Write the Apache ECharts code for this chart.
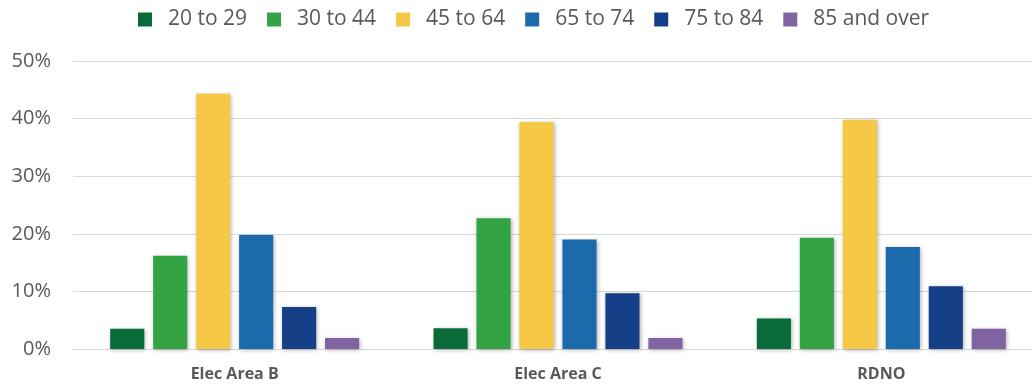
<!DOCTYPE html>
<html>
<head>
<meta charset="utf-8">
<title>Age groups</title>
<script src="https://cdn.jsdelivr.net/npm/echarts@6/dist/echarts.min.js"></script>
<style>
    html, body { margin: 0; padding: 0; background: #fff; overflow: hidden; }
    /* 图表比窗口略宽，右侧被裁掉 */
    #chart { width: 1044px; height: 387px; }
</style>
</head>
<body>
<div id="chart"></div>
<script>
// 数据
var areas = ["Elec Area B", "Elec Area C", "RDNO"];
var ageGroups = ["20 to 29", "30 to 44", "45 to 64", "65 to 74", "75 to 84", "85 and over"];
var age20to29 = [3.5, 3.6, 5.3];
var age30to44 = [16.2, 22.7, 19.3];
var age45to64 = [44.3, 39.4, 39.8];
var age65to74 = [19.8, 19.0, 17.7];
var age75to84 = [7.3, 9.7, 10.9];
var age85plus = [1.9, 1.9, 3.5];
var yTicks = [0, 10, 20, 30, 40, 50];

var groupValues = [age20to29, age30to44, age45to64, age65to74, age75to84, age85plus];
var colors = ["#0a6b3a", "#34a343", "#f5c945", "#1b6aab", "#153f87", "#8064a2"];

var myChart = echarts.init(document.getElementById("chart"));

var series = ageGroups.map(function (name, i) {
    return {
        name: name,
        type: "bar",
        data: groupValues[i],
        barGap: "26%",
        barCategoryGap: "23%",
        itemStyle: {
            color: colors[i],
            // 轻微阴影
            shadowColor: "rgba(0,0,0,0.3)",
            shadowBlur: 4,
            shadowOffsetX: 1,
            shadowOffsetY: 1
        }
    };
});

var option = {
    animation: false,
    color: colors,
    textStyle: { fontFamily: "Open Sans" },
    legend: {
        top: 4,
        left: 133,
        itemWidth: 14,
        itemHeight: 14,
        itemGap: 20,
        icon: "rect",
        textStyle: {
            color: "#595959",
            fontSize: 21,
            padding: [0, 0, 0, 11]
        },
        data: ageGroups
    },
    grid: {
        left: 73,
        top: 61,
        right: 1,
        height: 288
    },
    xAxis: {
        type: "category",
        data: areas,
        axisTick: { show: false },
        axisLine: { lineStyle: { color: "#d9d9d9", width: 1 } },
        axisLabel: {
            color: "#595959",
            fontSize: 16,
            fontWeight: "bold",
            margin: 17
        }
    },
    yAxis: {
        type: "value",
        min: yTicks[0],
        max: yTicks[yTicks.length - 1],
        interval: 10,
        axisLine: { show: false },
        axisTick: { show: false },
        axisLabel: {
            color: "#595959",
            fontSize: 20,
            margin: 22,
            formatter: "{value}%"
        },
        splitLine: { lineStyle: { color: "#d9d9d9", width: 1 } }
    },
    series: series
};

myChart.setOption(option);
window.addEventListener("resize", function () {
    myChart.resize();
});
</script>
</body>
</html>
